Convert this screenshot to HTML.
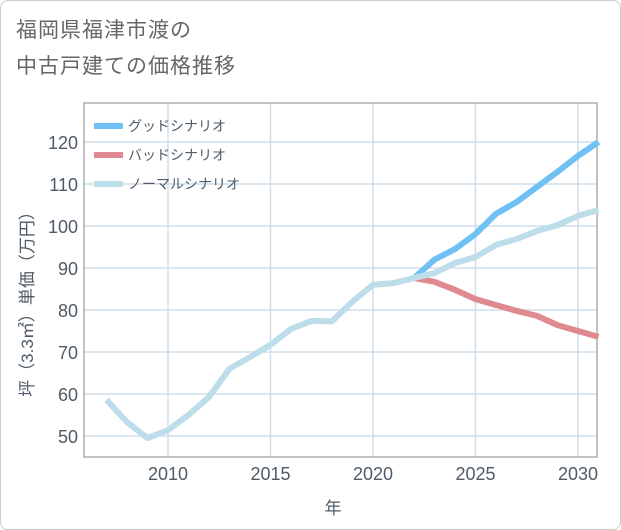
<!DOCTYPE html>
<html><head><meta charset="utf-8"><style>
body{margin:0;background:#fff;font-family:"Liberation Sans","Noto Sans CJK JP",sans-serif;}
#card{position:absolute;left:0;top:0;width:619px;height:528px;border:1px solid #ccc;border-radius:8px;background:#fff;}
#title{position:absolute;left:16px;top:13px;font-size:21px;line-height:36px;color:#666;letter-spacing:1px;}
svg{position:absolute;left:0;top:0;}
</style></head><body>
<div id="card"></div>
<div id="title">福岡県福津市渡の<br>中古戸建ての価格推移</div>
<svg id="chart" width="621" height="530"></svg>
<script>
const years=[2007,2008,2009,2010,2011,2012,2013,2014,2015,2016,2017,2018,2019,2020,2021,2022,2023,2024,2025,2026,2027,2028,2029,2030,2031];
const normal=[58.6,53.3,49.5,51.4,55,59.3,66,68.8,71.7,75.5,77.4,77.3,82,86,86.4,87.6,88.8,91.2,92.6,95.5,96.9,98.8,100.2,102.4,103.8];
const goodYears=[2022,2023,2024,2025,2026,2027,2028,2029,2030,2031];
const good=[87.6,92,94.5,98.1,102.9,105.7,109.3,112.9,116.7,120];
const badYears=[2022,2023,2024,2025,2026,2027,2028,2029,2030,2031];
const bad=[87.6,86.7,84.8,82.6,81.2,79.8,78.6,76.4,75,73.6];
const yTicks=[50,60,70,80,90,100,110,120];
const xTicks=[2010,2015,2020,2025,2030];
const L=84,R=597,T=103,B=457;
const X=y=>168+(y-2010)*20.5;
const Y=v=>142+(120-v)*4.2;
const svg=document.getElementById('chart');
const NS='http://www.w3.org/2000/svg';
const TXT='#4f5b66';
function mk(tag,attrs){const e=document.createElementNS(NS,tag);for(const k in attrs)e.setAttribute(k,attrs[k]);svg.appendChild(e);return e;}
yTicks.forEach(v=>{
 const l=mk('line',{x1:L,x2:R,y1:Y(v),y2:Y(v),stroke:'#cfdde9','stroke-width':1.5});
 
 
 const t=mk('text',{x:78,y:Y(v)+7,'text-anchor':'end','font-size':18,fill:TXT});
 t.textContent=v;
 
 
});
xTicks.forEach(v=>{
 const l=mk('line',{x1:X(v),x2:X(v),y1:T,y2:B,stroke:'#cfdde9','stroke-width':1.5});
 
 
 const t=mk('text',{x:X(v),y:480,'text-anchor':'middle','font-size':18,fill:TXT});
 t.textContent=v;
 
 
});
const fr=mk('rect',{x:L,y:T,width:R-L,height:B-T,fill:'none',stroke:'#999','stroke-width':1.2});


function line(xs,vs,color,name){
 const p=mk('polyline',{points:xs.map((x,i)=>X(x)+','+Y(vs[i])).join(' '),fill:'none',stroke:color,'stroke-width':6,'stroke-linejoin':'round'});
 
 
}
line(badYears,bad,'#de8a90','bad-scenario-line');
line(goodYears,good,'#6ec0f5','good-scenario-line');
line(years,normal,'#bcdde9','normal-scenario-line');
const lg=[['グッドシナリオ','#6ec0f5'],['バッドシナリオ','#de8a90'],['ノーマルシナリオ','#bcdde9']];
lg.forEach((d,i)=>{
 const y=126+i*29;
 const s=mk('line',{x1:94,x2:123,y1:y,y2:y,stroke:d[1],'stroke-width':6});
 
 
 const t=mk('text',{x:128,y:y+5,'font-size':14,fill:TXT});
 t.textContent=d[0];
 
 
});
const xt=mk('text',{x:333,y:514,'text-anchor':'middle','font-size':17,fill:TXT});
xt.textContent='年';


const yt=mk('text',{x:0,y:0,'text-anchor':'middle','font-size':17,fill:TXT,transform:'translate(33,300) rotate(-90)'});
yt.textContent='坪（3.3㎡）単価（万円）';


</script>
</body></html>
